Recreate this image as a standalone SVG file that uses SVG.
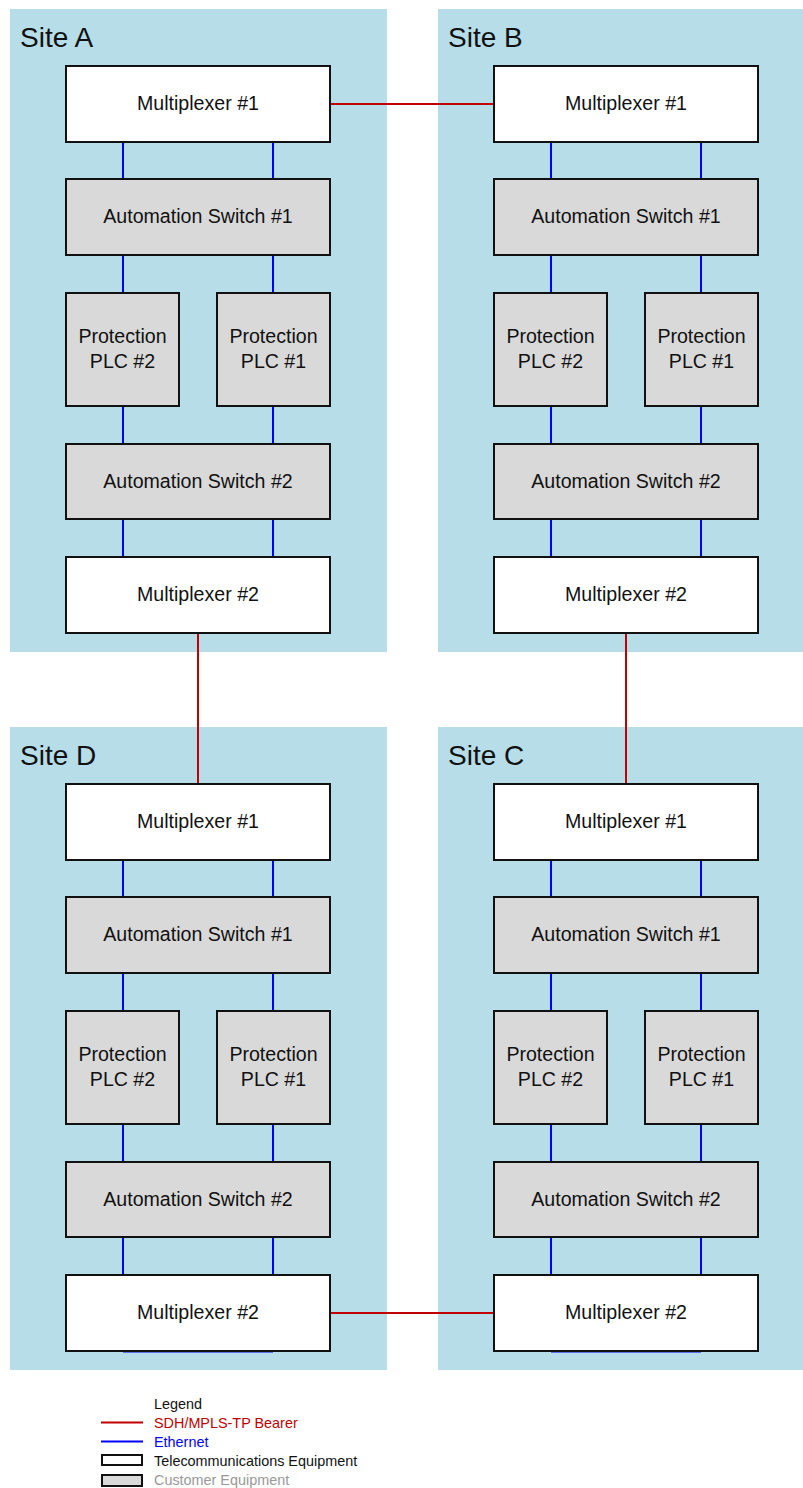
<svg xmlns="http://www.w3.org/2000/svg" width="803" height="1488" viewBox="0 0 803 1488">
  <style>
    .panel { fill: #b7dde8; }
    .site { font-family: "Liberation Sans", Arial, sans-serif; font-size: 28px; fill: #111; }
    .telco { fill: #ffffff; stroke: #111; stroke-width: 2; }
    .cust { fill: #d9d9d9; stroke: #111; stroke-width: 2; }
    .lbl { font-family: "Liberation Sans", Arial, sans-serif; font-size: 19.6px; fill: #111; text-anchor: middle; }
    .eth { stroke: #0000ff; stroke-width: 2; fill: none; }
    .sdh { stroke: #c00000; stroke-width: 2; fill: none; }
    .leg { font-family: "Liberation Sans", Arial, sans-serif; font-size: 14.4px; }
  </style>
  <defs>
    <!-- one site: two multiplexers, two switches, two PLCs, Ethernet links -->
    <g id="siteLinks">
      <path class="eth" d="M123 142V179M273 142V179M123 255V293M273 255V293M123 406V444M273 406V444M123 519V557M273 519V557"/>
    </g>
  </defs>

  <!-- site panels -->
  <g id="panels">
    <rect class="panel" x="10" y="9" width="377" height="643"/>
    <rect class="panel" x="438" y="9" width="377" height="643"/>
    <rect class="panel" x="10" y="727" width="377" height="643"/>
    <rect class="panel" x="438" y="727" width="377" height="643"/>
    <text class="site" x="20" y="47">Site A</text>
    <text class="site" x="448" y="47">Site B</text>
    <text class="site" x="20" y="765">Site D</text>
    <text class="site" x="448" y="765">Site C</text>
  </g>

  <!-- connectors -->
  <g id="connectors">
    <use href="#siteLinks"/>
    <use href="#siteLinks" transform="translate(428,0)"/>
    <use href="#siteLinks" transform="translate(0,718)"/>
    <use href="#siteLinks" transform="translate(428,718)"/>
    <path class="eth" d="M123 1351.5H273M551 1351.5H701" stroke-width="1.5"/>
    <path class="sdh" d="M330 104H494"/>
    <path class="sdh" d="M198 633V784"/>
    <path class="sdh" d="M626 633V784"/>
    <path class="sdh" d="M330 1313H494"/>
  </g>

  <!-- Site A -->
  <g id="siteA">
    <g id="A-mux1"><rect class="telco" x="66" y="66" width="264" height="76"/><text class="lbl" x="198" y="110">Multiplexer #1</text></g>
    <g id="A-sw1"><rect class="cust" x="66" y="179" width="264" height="76"/><text class="lbl" x="198" y="223">Automation Switch #1</text></g>
    <g id="A-plc2"><rect class="cust" x="66" y="293" width="113" height="113"/><text class="lbl" x="122.5" y="343">Protection</text><text class="lbl" x="122.5" y="368">PLC #2</text></g>
    <g id="A-plc1"><rect class="cust" x="217" y="293" width="113" height="113"/><text class="lbl" x="273.5" y="343">Protection</text><text class="lbl" x="273.5" y="368">PLC #1</text></g>
    <g id="A-sw2"><rect class="cust" x="66" y="444" width="264" height="75"/><text class="lbl" x="198" y="488">Automation Switch #2</text></g>
    <g id="A-mux2"><rect class="telco" x="66" y="557" width="264" height="76"/><text class="lbl" x="198" y="601">Multiplexer #2</text></g>
  </g>

  <!-- Site B -->
  <g id="siteB" transform="translate(428,0)">
    <g id="B-mux1"><rect class="telco" x="66" y="66" width="264" height="76"/><text class="lbl" x="198" y="110">Multiplexer #1</text></g>
    <g id="B-sw1"><rect class="cust" x="66" y="179" width="264" height="76"/><text class="lbl" x="198" y="223">Automation Switch #1</text></g>
    <g id="B-plc2"><rect class="cust" x="66" y="293" width="113" height="113"/><text class="lbl" x="122.5" y="343">Protection</text><text class="lbl" x="122.5" y="368">PLC #2</text></g>
    <g id="B-plc1"><rect class="cust" x="217" y="293" width="113" height="113"/><text class="lbl" x="273.5" y="343">Protection</text><text class="lbl" x="273.5" y="368">PLC #1</text></g>
    <g id="B-sw2"><rect class="cust" x="66" y="444" width="264" height="75"/><text class="lbl" x="198" y="488">Automation Switch #2</text></g>
    <g id="B-mux2"><rect class="telco" x="66" y="557" width="264" height="76"/><text class="lbl" x="198" y="601">Multiplexer #2</text></g>
  </g>

  <!-- Site D -->
  <g id="siteD" transform="translate(0,718)">
    <g id="D-mux1"><rect class="telco" x="66" y="66" width="264" height="76"/><text class="lbl" x="198" y="110">Multiplexer #1</text></g>
    <g id="D-sw1"><rect class="cust" x="66" y="179" width="264" height="76"/><text class="lbl" x="198" y="223">Automation Switch #1</text></g>
    <g id="D-plc2"><rect class="cust" x="66" y="293" width="113" height="113"/><text class="lbl" x="122.5" y="343">Protection</text><text class="lbl" x="122.5" y="368">PLC #2</text></g>
    <g id="D-plc1"><rect class="cust" x="217" y="293" width="113" height="113"/><text class="lbl" x="273.5" y="343">Protection</text><text class="lbl" x="273.5" y="368">PLC #1</text></g>
    <g id="D-sw2"><rect class="cust" x="66" y="444" width="264" height="75"/><text class="lbl" x="198" y="488">Automation Switch #2</text></g>
    <g id="D-mux2"><rect class="telco" x="66" y="557" width="264" height="76"/><text class="lbl" x="198" y="601">Multiplexer #2</text></g>
  </g>

  <!-- Site C -->
  <g id="siteC" transform="translate(428,718)">
    <g id="C-mux1"><rect class="telco" x="66" y="66" width="264" height="76"/><text class="lbl" x="198" y="110">Multiplexer #1</text></g>
    <g id="C-sw1"><rect class="cust" x="66" y="179" width="264" height="76"/><text class="lbl" x="198" y="223">Automation Switch #1</text></g>
    <g id="C-plc2"><rect class="cust" x="66" y="293" width="113" height="113"/><text class="lbl" x="122.5" y="343">Protection</text><text class="lbl" x="122.5" y="368">PLC #2</text></g>
    <g id="C-plc1"><rect class="cust" x="217" y="293" width="113" height="113"/><text class="lbl" x="273.5" y="343">Protection</text><text class="lbl" x="273.5" y="368">PLC #1</text></g>
    <g id="C-sw2"><rect class="cust" x="66" y="444" width="264" height="75"/><text class="lbl" x="198" y="488">Automation Switch #2</text></g>
    <g id="C-mux2"><rect class="telco" x="66" y="557" width="264" height="76"/><text class="lbl" x="198" y="601">Multiplexer #2</text></g>
  </g>

  <!-- legend -->
  <g id="legend">
    <text class="leg" x="154" y="1409" fill="#111">Legend</text>
    <path class="sdh" d="M101 1422.5H143"/>
    <text class="leg" x="154" y="1428" fill="#c00000">SDH/MPLS-TP Bearer</text>
    <path class="eth" d="M101 1441.5H143"/>
    <text class="leg" x="154" y="1447" fill="#0000ff">Ethernet</text>
    <rect class="telco" x="102" y="1455" width="40" height="10"/>
    <text class="leg" x="154" y="1466" fill="#111">Telecommunications Equipment</text>
    <rect class="cust" x="102" y="1475" width="40" height="11"/>
    <text class="leg" x="154" y="1485" fill="#999999">Customer Equipment</text>
  </g>
</svg>
